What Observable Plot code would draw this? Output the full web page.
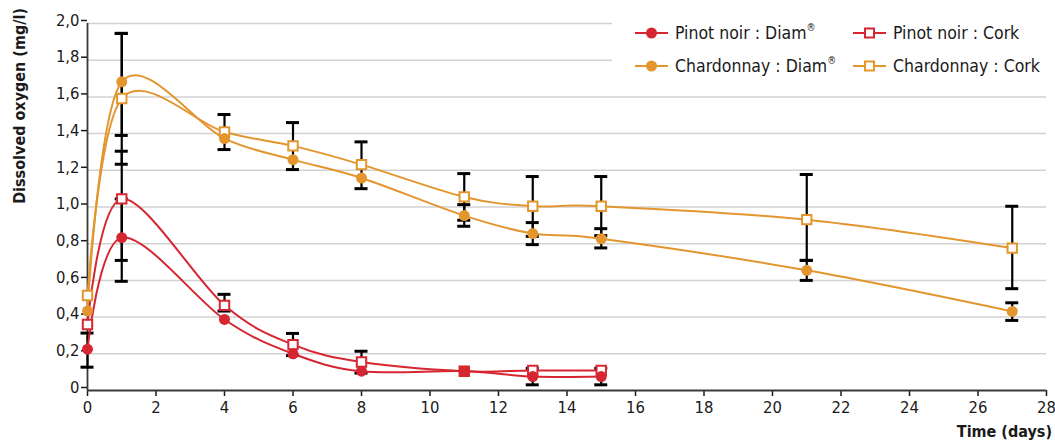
<!DOCTYPE html>
<html>
<head>
<meta charset="utf-8">
<script src="https://cdn.jsdelivr.net/npm/d3@7"></script>
<script src="https://cdn.jsdelivr.net/npm/@observablehq/plot@0.6"></script>
<style>
  body { margin: 0; background: #fff; }
  #wrap { position: relative; width: 1055px; height: 444px; overflow: hidden;
          font-family: "Liberation Sans Narrow", "DejaVu Sans Condensed", sans-serif; color: #1a1a1a; }
  #wrap > svg { position: absolute; left: 0; top: 0; }
  #ytitle { position: absolute; left: 11px; top: 8px; writing-mode: vertical-rl; transform: rotate(180deg);
            font-weight: bold; font-size: 16px; line-height: 18px; white-space: nowrap; }
  #xtitle { position: absolute; right: 3px; top: 422px; font-weight: bold; font-size: 16px; line-height: 20px; white-space: nowrap; }
  #legend { position: absolute; left: 612px; top: 12px; width: 440px; height: 78px; background: #fff; }
  .item { position: absolute; display: flex; align-items: center; font-size: 17.5px; white-space: nowrap; height: 24px; }
  .item svg { display: block; margin-right: 7px; flex: none; }
  sup { font-size: 10px; vertical-align: 8px; line-height: 0; }
</style>
</head>
<body>
<div id="wrap">
  <div id="ytitle">Dissolved oxygen (mg/l)</div>
  <div id="xtitle">Time (days)</div>
</div>
<script>
// ---- data ----
const seriesNames = ["Pinot noir : Diam®", "Pinot noir : Cork", "Chardonnay : Diam®", "Chardonnay : Cork"];
const seriesColors = ["#D62631", "#D62631", "#E3962E", "#E3962E"];
const seriesSymbols = ["circle", "square", "circle", "square"];

const pinotDays = [0, 1, 4, 6, 8, 11, 13, 15];
const chardDays = [0, 1, 4, 6, 8, 11, 13, 15, 21, 27];

const pinotDiam = [0.225, 0.833, 0.387, 0.200, 0.105, 0.105, 0.076, 0.076];
const pinotCork = [0.360, 1.044, 0.464, 0.250, 0.155, 0.105, 0.109, 0.109];
const chardDiam = [0.433, 1.682, 1.373, 1.258, 1.158, 0.953, 0.855, 0.827, 0.655, 0.431];
const chardCork = [0.518, 1.591, 1.409, 1.333, 1.231, 1.055, 1.004, 1.004, 0.931, 0.776];

// error bars: day, low, high
const errDay = [0,     1,     1,     1,     1,     4,     4,     6,     6,     8,     8,     11,    11,    13,    13,    13,    15,    15,    15,    21,    21,    27,    27];
const errLo  = [0.127, 1.390, 1.233, 0.709, 0.595, 0.433, 1.313, 0.190, 1.204, 0.095, 1.100, 0.928, 0.895, 0.840, 0.795, 0.031, 0.844, 0.777, 0.031, 0.709, 0.600, 0.555, 0.382];
const errHi  = [0.313, 1.946, 1.946, 1.304, 1.044, 0.524, 1.504, 0.311, 1.460, 0.214, 1.355, 1.182, 1.013, 1.166, 0.915, 0.121, 1.166, 0.882, 0.121, 1.177, 0.709, 1.004, 0.478];

const xTicks = [0, 2, 4, 6, 8, 10, 12, 14, 16, 18, 20, 22, 24, 26, 28];
const yTicks = [0, 0.2, 0.4, 0.6, 0.8, 1.0, 1.2, 1.4, 1.6, 1.8, 2.0];

// ---- build tables ----
const seriesValues = [pinotDiam, pinotCork, chardDiam, chardCork];
const seriesDays = [pinotDays, pinotDays, chardDays, chardDays];
const rows = [];
seriesValues.forEach((vals, s) => vals.forEach((v, i) => rows.push({series: seriesNames[s], symbol: seriesSymbols[s], day: seriesDays[s][i], value: v})));
const errs = errDay.map((d, i) => ({day: d, lo: errLo[i], hi: errHi[i]}));
const fmt = d => d === 0 ? "0" : d.toFixed(1).replace(".", ",");

const plot = Plot.plot({
  width: 1055, height: 444,
  marginLeft: 87, marginRight: 9, marginTop: 23, marginBottom: 54,
  x: {domain: [0, 28], axis: null},
  y: {domain: [0, 2], axis: null},
  color: {domain: seriesNames, range: seriesColors},
  style: {fontFamily: '"Liberation Sans Narrow", "DejaVu Sans Condensed", sans-serif', fontSize: "16.5px", color: "#1a1a1a", background: "transparent", overflow: "visible"},
  marks: [
    Plot.ruleY(yTicks.filter(d => d > 0), {stroke: "#d2d2d2", strokeWidth: 1.5}),
    Plot.axisY(yTicks, {tickSize: 6, tickPadding: 2, tickFormat: fmt, dy: -3, fontSize: 16.5, strokeWidth: 1.5, label: null}),
    Plot.axisX(xTicks, {tickSize: 6, tickPadding: 5, fontSize: 16.5, strokeWidth: 1.5, label: null}),
    Plot.ruleX([0], {stroke: "#3a3a3a", strokeWidth: 1.8}),
    Plot.ruleY([0], {stroke: "#3a3a3a", strokeWidth: 1.8}),
    Plot.ruleX(errs, {x: "day", y1: "lo", y2: "hi", stroke: "#000", strokeWidth: 2.2}),
    Plot.ruleY(errs, {y: "lo", x1: "day", x2: "day", insetLeft: -6.5, insetRight: -6.5, stroke: "#000", strokeWidth: 3}),
    Plot.ruleY(errs, {y: "hi", x1: "day", x2: "day", insetLeft: -6.5, insetRight: -6.5, stroke: "#000", strokeWidth: 3}),
    Plot.line(rows, {x: "day", y: "value", z: "series", stroke: "series", curve: "cardinal", strokeWidth: 2}),
    Plot.dot(rows.filter(d => d.symbol === "square"), {x: "day", y: "value", stroke: "series", fill: "#fff", symbol: "square", r: 5.3, strokeWidth: 2}),
    Plot.dot(rows.filter(d => d.symbol === "circle"), {x: "day", y: "value", fill: "series", symbol: "circle", r: 5.5})
  ]
});
document.getElementById("wrap").prepend(plot);

// ---- legend ----
const wrap = document.getElementById("wrap");
const legend = document.createElement("div");
legend.id = "legend";
wrap.appendChild(legend);
const legPos = [[635, 21], [853, 21], [635, 54], [853, 54]];
seriesNames.forEach((name, i) => {
  const it = document.createElement("div");
  it.className = "item";
  it.style.left = legPos[i][0] + "px";
  it.style.top = legPos[i][1] + "px";
  const c = seriesColors[i];
  const marker = seriesSymbols[i] === "circle"
    ? `<circle cx="16.5" cy="12" r="5.5" fill="${c}"/>`
    : `<rect x="12" y="7.5" width="9" height="9" fill="#fff" stroke="${c}" stroke-width="2"/>`;
  const label = name.replace("®", "<sup>®</sup>");
  it.innerHTML = `<svg width="33" height="24"><line x1="0" x2="33" y1="12" y2="12" stroke="${c}" stroke-width="2"/>${marker}</svg><span>${label}</span>`;
  wrap.appendChild(it);
});
</script>
</body>
</html>
